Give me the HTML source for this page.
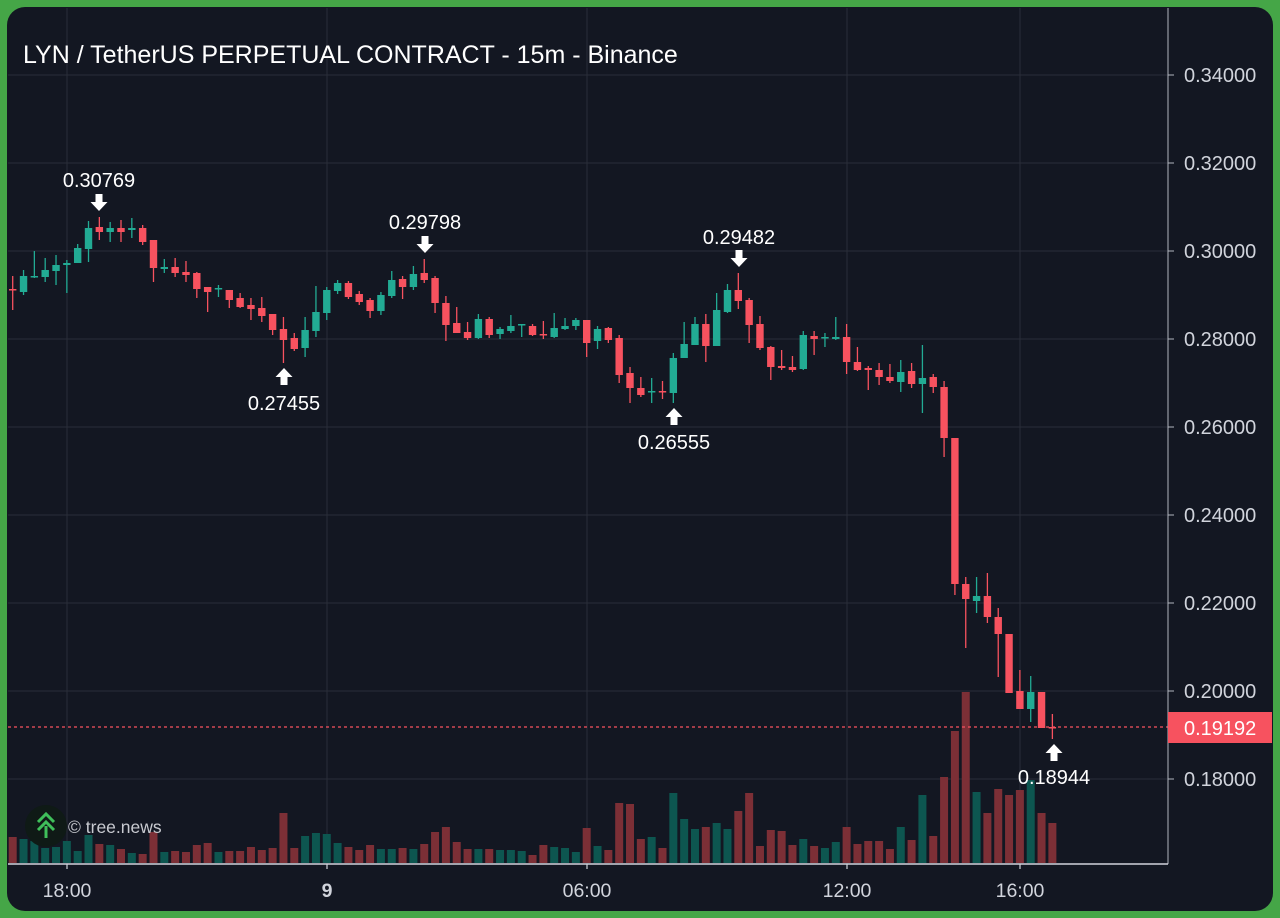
<!DOCTYPE html>
<html><head><meta charset="utf-8"><style>
html,body{margin:0;padding:0;width:1280px;height:918px;overflow:hidden;background:#45a647;}
#p{position:absolute;left:7px;top:7px;width:1266px;height:904px;border-radius:18px;background:#131722;overflow:hidden;}
svg{position:absolute;left:-7px;top:-7px;}
text{font-family:"Liberation Sans",sans-serif;}
</style></head><body><div id="p">
<svg id="s" width="1280" height="918" xmlns="http://www.w3.org/2000/svg"></svg>
</div>
<script>
const C=[[289,276,310,289],[292,270,295,276],[277,251,278,276],[277,258,282,270],[271,255,285,265],[265,260,293,263],[263,244,263,248],[249,221,262,228],[227,217,240,232],[232,222,242,228],[228,220,242,232],[230,218,238,228],[228,225,245,242],[240,240,282,268],[269,259,273,267],[267,258,277,273],[272,261,282,275],[273,272,298,289],[287,287,312,292],[289,285,297,288],[290,290,308,300],[298,293,308,307],[305,298,320,309],[308,297,322,316],[314,314,335,330],[329,317,363,340],[338,333,351,349],[348,317,357,330],[331,286,337,312],[313,287,320,290],[291,280,294,283],[283,281,299,297],[294,291,305,302],[300,298,318,311],[311,292,315,295],[296,271,298,280],[279,276,299,287],[287,266,290,274],[273,259,283,280],[278,276,313,303],[303,296,341,325],[323,307,333,333],[332,322,340,338],[338,314,339,319],[319,317,338,335],[334,327,339,329],[331,315,333,326],[325,324,337,324],[326,324,336,335],[334,321,339,335],[337,313,338,328],[329,318,330,326],[326,318,330,320],[320,320,357,343],[341,326,349,329],[328,327,343,340],[338,335,383,375],[373,367,403,388],[388,377,397,395],[392,378,403,391],[391,381,399,392],[393,353,403,358],[358,322,358,344],[345,317,345,324],[324,314,362,346],[346,293,346,310],[312,284,313,290],[290,273,309,301],[300,298,343,325],[324,316,350,348],[347,346,380,367],[366,350,370,368],[367,356,372,370],[369,331,370,335],[336,331,355,339],[338,333,347,337],[339,317,340,337],[337,324,374,362],[362,347,371,370],[368,366,390,370],[370,363,385,377],[377,364,383,381],[382,360,392,372],[371,363,388,384],[384,345,413,378],[377,374,393,387],[387,381,457,438],[438,438,595,584],[584,577,648,599],[601,577,613,596],[596,573,623,617],[617,608,677,634],[634,634,693,693],[691,670,709,709],[709,676,722,692],[692,692,728,728],[727,714,739,728]];
const V=[837,839,841,848,847,841,851,835,844,845,849,853,854,832,852,851,852,845,843,852,851,851,847,850,848,813,848,836,833,834,843,847,850,845,849,849,848,849,844,832,827,842,849,849,849,850,850,851,855,845,847,848,852,828,846,850,803,804,839,837,848,793,819,829,827,823,829,811,793,846,830,831,845,839,846,848,842,827,844,841,841,849,827,840,795,836,777,731,692,792,813,789,795,790,780,813,823];
let h='';
const G='#2a2e39';
[75,163,251,339,427,515,603,691,779].forEach(y=>h+=`<line x1="8" y1="${y}" x2="1168" y2="${y}" stroke="${G}" stroke-width="1"/>`);
[67,327,587,847,1020].forEach(x=>h+=`<line x1="${x}" y1="8" x2="${x}" y2="864" stroke="${G}" stroke-width="1"/>`);
const X=i=>12.7+i*10.83;
const isRed=(c,i)=>c[3]>c[0]||(c[3]==c[0]&&i!=2&&i!=19&&i!=47&&i!=59&&i!=75);
C.forEach((c,i)=>{const x=X(i);const red=isRed(c,i);
const v=V[i];h+=`<rect x="${x-4}" y="${v}" width="8" height="${863-v}" fill="${red?'#7c2f36':'#0d5650'}"/>`;});
C.forEach((c,i)=>{const x=X(i);const red=isRed(c,i);
const col=red?'#f7525f':'#22ab94';const t=Math.min(c[0],c[3]),b=Math.max(c[0],c[3]);
h+=`<line x1="${x}" y1="${c[1]}" x2="${x}" y2="${c[2]}" stroke="${col}" stroke-width="1.3"/>`;
h+=`<rect x="${x-3.7}" y="${t}" width="7.4" height="${Math.max(b-t,1.5)}" fill="${col}"/>`;});
h+=`<line x1="8" y1="727" x2="1168" y2="727" stroke="#f7525f" stroke-width="1.3" stroke-dasharray="3,3"/>`;
h+=`<line x1="1168" y1="8" x2="1168" y2="864" stroke="#b2b5be" stroke-width="1"/>`;
h+=`<line x1="8" y1="864" x2="1168" y2="864" stroke="#d1d4dc" stroke-width="1.5"/>`;
[67,327,587,847,1020].forEach(x=>h+=`<line x1="${x}" y1="864" x2="${x}" y2="869" stroke="#d1d4dc" stroke-width="1.2"/>`);
[["18:00",67,""],["9",327,"bold"],["06:00",587,""],["12:00",847,""],["16:00",1020,""]].forEach(a=>h+=`<text x="${a[1]}" y="897" fill="#d1d4dc" font-size="19.5" text-anchor="middle" font-weight="${a[2]||'normal'}">${a[0]}</text>`);
[["0.34000",75],["0.32000",163],["0.30000",251],["0.28000",339],["0.26000",427],["0.24000",515],["0.22000",603],["0.20000",691],["0.18000",779]].forEach(a=>{h+=`<line x1="1168" y1="${a[1]}" x2="1174" y2="${a[1]}" stroke="#b2b5be"/>`;h+=`<text x="1184" y="${a[1]+7}" fill="#d1d4dc" font-size="20">${a[0]}</text>`;});
h+=`<rect x="1168" y="712" width="104" height="31" fill="#f7525f"/><text x="1184" y="735" fill="#fff" font-size="20">0.19192</text>`;
h+=`<text x="23" y="63" fill="#fff" font-size="25">LYN / TetherUS PERPETUAL CONTRACT - 15m - Binance</text>`;
function arr(x,y,down){
 if(down)h+=`<path d="M${x-3.5} ${y} h7 v8 h5 l-8.5 9 l-8.5 -9 h5 z" fill="#fff"/>`;
 else h+=`<path d="M${x} ${y} l8.5 9 h-5 v8 h-7 v-8 h-5 z" fill="#fff"/>`;}
[[99,187,194,1,"0.30769"],[425,229,236,1,"0.29798"],[739,244,250,1,"0.29482"]].forEach(a=>{h+=`<text x="${a[0]}" y="${a[1]}" fill="#fff" font-size="20" text-anchor="middle">${a[4]}</text>`;arr(a[0],a[2],1);});
[[284,368,410,"0.27455"],[674,408,449,"0.26555"],[1054,744,784,"0.18944"]].forEach(a=>{arr(a[0],a[1],0);h+=`<text x="${a[0]}" y="${a[2]}" fill="#fff" font-size="20" text-anchor="middle">${a[3]}</text>`;});
h+=`<circle cx="46" cy="826" r="21" fill="#0f1a16"/>`;
h+=`<path d="M38 822 l8 -8 l8 8 M38 830 l8 -8 l8 8" stroke="#3fbf5a" stroke-width="3" fill="none"/><line x1="46" y1="826" x2="46" y2="838" stroke="#3fbf5a" stroke-width="3"/>`;
h+=`<text x="68" y="833" fill="#c8cad0" font-size="17.5">© tree.news</text>`;
document.getElementById('s').innerHTML=h;
</script></body></html>
